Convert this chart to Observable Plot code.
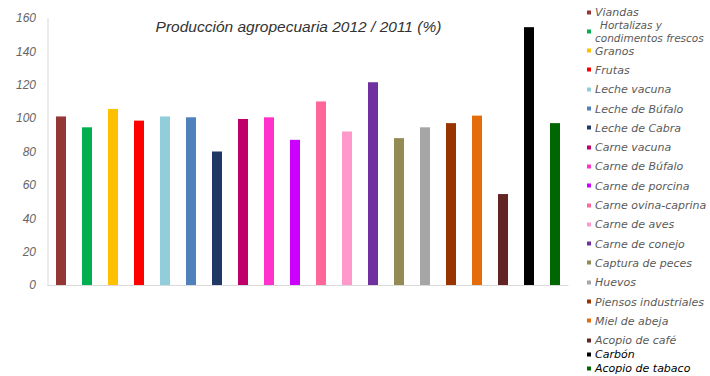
<!DOCTYPE html>
<html>
<head>
<meta charset="utf-8">
<script src="https://cdn.jsdelivr.net/npm/d3@7"></script>
<script src="https://cdn.jsdelivr.net/npm/@observablehq/plot@0.6"></script>
<style>
  body { margin: 0; background: #fff; }
  #chart { position: relative; width: 710px; height: 376px; overflow: hidden; }
  .legend { position: absolute; left: 0; top: 0; font-family: "DejaVu Sans", sans-serif; font-style: italic; font-size: 11px; color: #5a5a5a; }
  .item { position: absolute; left: 587px; display: flex; align-items: center; white-space: nowrap; transform: translateY(-50%); }
  .swatch { width: 4px; height: 4px; margin-right: 4px; flex: none; }
  .lines { line-height: 12.5px; font-size: 10.5px; }
  .lines .first { padding-left: 5px; }
  .strong { color: #000; }
</style>
</head>
<body>
<div id="chart"></div>
<script>
// Products, in bar order
const categories = [
  "Viandas",
  "Hortalizas y\ncondimentos frescos",
  "Granos",
  "Frutas",
  "Leche vacuna",
  "Leche de Búfalo",
  "Leche de Cabra",
  "Carne vacuna",
  "Carne de Búfalo",
  "Carne de porcina",
  "Carne ovina-caprina",
  "Carne de aves",
  "Carne de conejo",
  "Captura de peces",
  "Huevos",
  "Piensos industriales",
  "Miel de abeja",
  "Acopio de café",
  "Carbón",
  "Acopio de tabaco"
];

// Production 2012 relative to 2011 (%)
const values = [
  101, 94.5, 105.5, 98.5, 101, 100.5, 80, 99.5, 100.5, 87,
  110, 92, 121.5, 88, 94.5, 97, 101.5, 54.5, 154.5, 97
];

const colors = [
  "#943634", "#00b050", "#ffc000", "#ff0000", "#92cddc",
  "#4f81bd", "#1f3864", "#c0006a", "#ff33cc", "#cc00ff",
  "#ff6699", "#ff99cc", "#7030a0", "#948a54", "#a6a6a6",
  "#993300", "#e46c0a", "#632523", "#000000", "#006600"
];

const yTicks = [0, 20, 40, 60, 80, 100, 120, 140, 160];
const title = "Producción agropecuaria 2012 / 2011 (%)";

const rows = categories.map((category, i) => ({category, value: values[i], color: colors[i]}));

const chart = Plot.plot({
  width: 710,
  height: 376,
  marginLeft: 47.5,
  marginRight: 141.5,
  marginTop: 18,
  marginBottom: 91,
  style: {fontFamily: "'Liberation Sans', Arial, sans-serif", background: "#fff"},
  x: {domain: categories, paddingInner: 0.6, paddingOuter: 0.3, axis: null},
  y: {domain: [0, 160], label: null},
  marks: [
    Plot.frame({anchor: "left", stroke: "#d9d9d9"}),
    Plot.barY(rows, {x: "category", y: "value", fill: "color"}),
    Plot.ruleY([0], {stroke: "#d9d9d9"}),
    Plot.axisY(yTicks, {tickSize: 0, tickPadding: 12, fontSize: 12, fontStyle: "italic", color: "#666", label: null}),
    Plot.text([title], {frameAnchor: "top", dx: -10, dy: 2, fontSize: 15.5, fontStyle: "italic", fill: "#333"})
  ]
});

const root = document.getElementById("chart");
root.appendChild(chart);

// Legend column on the right
const legend = document.createElement("div");
legend.className = "legend";
const step = 19.3;
categories.forEach((name, i) => {
  const item = document.createElement("div");
  item.className = "item";
  let cy = 12 + i * step;
  if (i === 18) cy = 354;
  if (i === 19) cy = 368;
  item.style.top = cy + "px";
  const sw = document.createElement("span");
  sw.className = "swatch";
  sw.style.background = colors[i];
  item.appendChild(sw);
  const label = document.createElement("span");
  const parts = name.split("\n");
  if (parts.length > 1) {
    label.className = "lines";
    parts.forEach((p, k) => {
      const line = document.createElement("div");
      if (k === 0) line.className = "first";
      line.textContent = p;
      label.appendChild(line);
    });
  } else {
    label.textContent = name;
  }
  if (i >= 18) label.classList.add("strong");
  item.appendChild(label);
  legend.appendChild(item);
});
root.appendChild(legend);
</script>
</body>
</html>
